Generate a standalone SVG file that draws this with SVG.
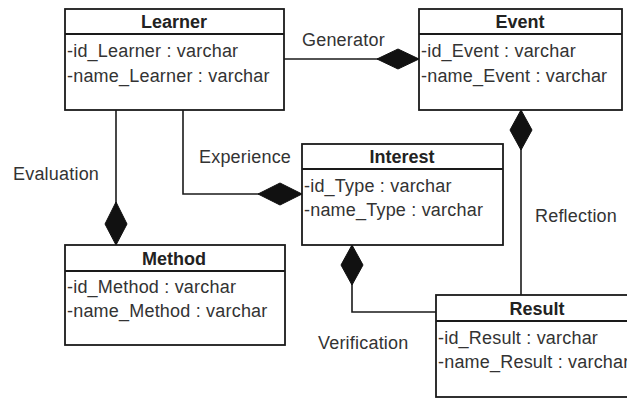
<svg xmlns="http://www.w3.org/2000/svg" width="627" height="399" viewBox="0 0 627 399">
<defs>
<style>
.box{fill:#fff;stroke:#1a1a1a;stroke-width:1.8}
.sep{stroke:#1a1a1a;stroke-width:1.8}
.t{font-family:"Liberation Sans",Arial,sans-serif;font-size:18px;letter-spacing:0.2px;fill:#333}
.h{font-family:"Liberation Sans",Arial,sans-serif;font-size:18px;font-weight:bold;fill:#222;text-anchor:middle}
.c{fill:none;stroke:#1a1a1a;stroke-width:1.6}
.d{fill:#111;stroke:#111;stroke-width:1}
</style>
</defs>
<rect width="627" height="399" fill="#fff"/>
<g id="connectors">
<path class="c" d="M284,59 H419"/>
<polygon class="d" points="419,59 398,49 377,59 398,69"/>
<text class="t" x="302" y="46">Generator</text>
<path class="c" d="M116,110 V245"/>
<polygon class="d" points="116,245 105,224 116,202 127,224"/>
<text class="t" x="13" y="180">Evaluation</text>
<path class="c" d="M183,110 V194 H302"/>
<polygon class="d" points="302,194 280,183 258,194 280,205"/>
<text class="t" x="199" y="163">Experience</text>
<path class="c" d="M521,110 V295"/>
<polygon class="d" points="521,110 532,130 521,150 510,130"/>
<text class="t" x="535" y="222">Reflection</text>
<path class="c" d="M352,245 V312 H436"/>
<polygon class="d" points="352,245 363,265 352,285 341,265"/>
<text class="t" x="318" y="349">Verification</text>
</g>
<g id="Learner">
<rect class="box" x="65" y="9" width="219" height="101"/>
<line class="sep" x1="65" y1="34" x2="284" y2="34"/>
<text class="h" x="174" y="28">Learner</text>
<text class="t" x="67" y="57">-id_Learner : varchar</text>
<text class="t" x="67" y="82">-name_Learner : varchar</text>
</g>
<g id="Event">
<rect class="box" x="419" y="9" width="203" height="101"/>
<line class="sep" x1="419" y1="34" x2="622" y2="34"/>
<text class="h" x="520" y="28">Event</text>
<text class="t" x="421" y="57">-id_Event : varchar</text>
<text class="t" x="421" y="82">-name_Event : varchar</text>
</g>
<g id="Interest">
<rect class="box" x="302" y="144" width="201" height="101"/>
<line class="sep" x1="302" y1="169" x2="503" y2="169"/>
<text class="h" x="402" y="163">Interest</text>
<text class="t" x="304" y="192">-id_Type : varchar</text>
<text class="t" x="304" y="216">-name_Type : varchar</text>
</g>
<g id="Method">
<rect class="box" x="65" y="245" width="220" height="100"/>
<line class="sep" x1="65" y1="271" x2="285" y2="271"/>
<text class="h" x="174" y="265">Method</text>
<text class="t" x="67" y="293">-id_Method : varchar</text>
<text class="t" x="67" y="317">-name_Method : varchar</text>
</g>
<g id="Result">
<rect class="box" x="436" y="295" width="202" height="102"/>
<line class="sep" x1="436" y1="321" x2="638" y2="321"/>
<text class="h" x="537" y="315">Result</text>
<text class="t" x="438" y="344">-id_Result : varchar</text>
<text class="t" x="438" y="368">-name_Result : varchar</text>
</g>
</svg>
